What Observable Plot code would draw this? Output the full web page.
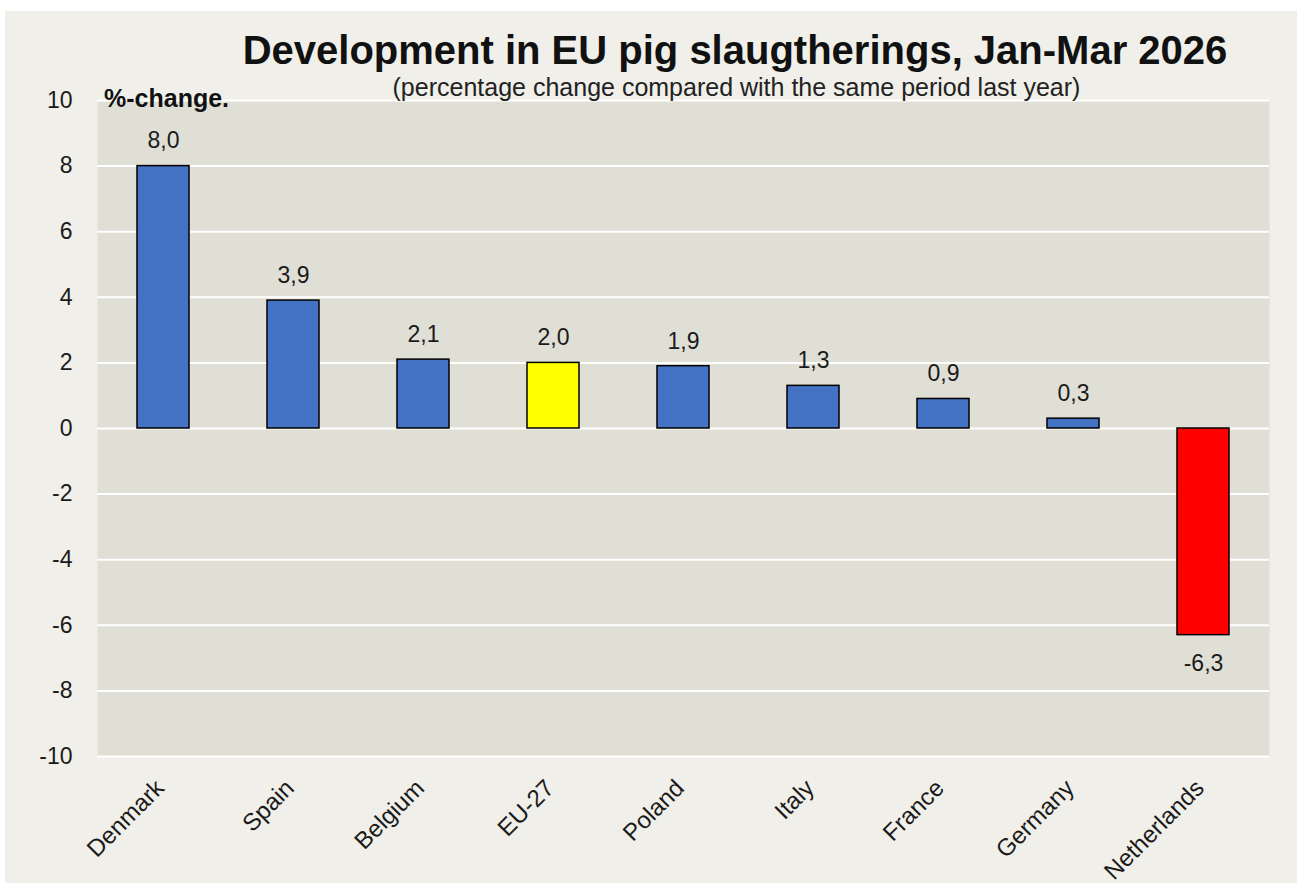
<!DOCTYPE html>
<html><head><meta charset="utf-8">
<script src="https://cdn.jsdelivr.net/npm/d3@7"></script>
<script src="https://cdn.jsdelivr.net/npm/@observablehq/plot@0.6"></script>
<style>
body{margin:0;background:#fff;font-family:"Liberation Sans",Arial,sans-serif;}
#wrap{position:relative;width:1297px;height:885px;overflow:hidden;background:#fff;}
#panel{position:absolute;left:5px;top:11px;width:1292px;height:872px;background:#f0efe9;}
#chart{position:absolute;left:0;top:0;}
.t{position:absolute;white-space:nowrap;color:#111;line-height:1.15;}
#title{left:0;width:1470px;text-align:center;top:27px;font-size:40px;font-weight:bold;}
#subtitle{left:0;width:1473px;text-align:center;top:73px;font-size:25px;color:#222;}
#unit{left:104px;top:84px;font-size:25px;font-weight:bold;}
</style></head>
<body>
<div id="wrap">
  <div id="panel"></div>
  <div id="chart"></div>
  <div class="t" id="title">Development in EU pig slaugtherings, Jan-Mar 2026</div>
  <div class="t" id="subtitle">(percentage change compared with the same period last year)</div>
  <div class="t" id="unit">%-change.</div>
</div>
<script>
const countries = ["Denmark","Spain","Belgium","EU-27","Poland","Italy","France","Germany","Netherlands"];
const changes = [8.0, 3.9, 2.1, 2.0, 1.9, 1.3, 0.9, 0.3, -6.3];
const barColors = ["#4472c4","#4472c4","#4472c4","#ffff00","#4472c4","#4472c4","#4472c4","#4472c4","#ff0000"];
const yTicks = [-10,-8,-6,-4,-2,0,2,4,6,8,10];

const data = countries.map((c,i)=>({country:c, value:changes[i], color:barColors[i]}));
const fmt = v => v.toFixed(1).replace(".", ",");

const chart = Plot.plot({
  width:1297, height:885,
  marginTop:100, marginBottom:129, marginLeft:97, marginRight:28,
  style:{background:"transparent", fontFamily:"'Liberation Sans', Arial, sans-serif", color:"#111"},
  x:{domain:countries, paddingInner:0.6, paddingOuter:0.3, axis:null},
  y:{domain:[-10,10]},
  marks:[
    Plot.frame({fill:"#e0dfd5", stroke:null}),
    Plot.ruleY(yTicks, {stroke:"#ffffff", strokeWidth:2}),
    Plot.axisY({ticks:yTicks, tickSize:0, tickPadding:25, fontSize:23, label:null, tickFormat:d=>String(d), fill:"#1a1a1a"}),
    Plot.barY(data, {x:"country", y:"value", fill:"color", stroke:"#000", strokeWidth:1.5}),
    Plot.text(data.filter(d=>d.value>=0), {x:"country", y:"value", text:d=>fmt(d.value), dy:-25, fontSize:23, fill:"#1a1a1a"}),
    Plot.text(data.filter(d=>d.value<0), {x:"country", y:"value", text:d=>fmt(d.value), dy:28, fontSize:23, fill:"#1a1a1a"}),
    Plot.text(data, {x:"country", frameAnchor:"bottom", text:"country", rotate:-45, textAnchor:"end", lineAnchor:"top", dx:-10, dy:21, fontSize:24, fill:"#1a1a1a"})
  ]
});
document.getElementById("chart").appendChild(chart);
</script>
</body></html>
